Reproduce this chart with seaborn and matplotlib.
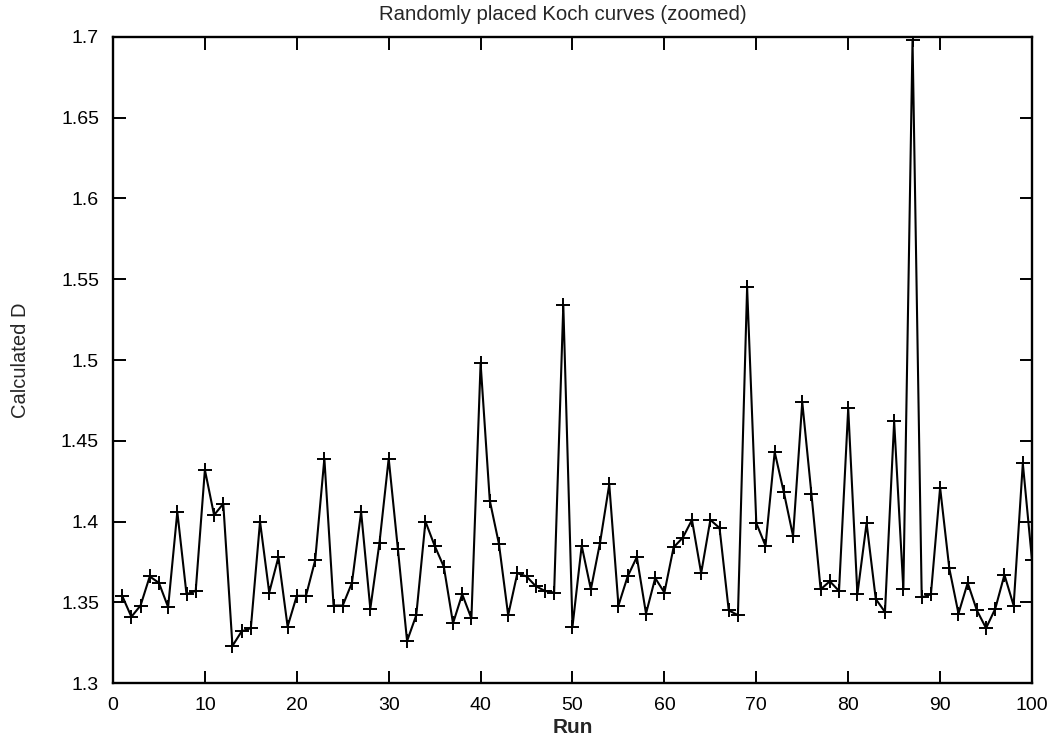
import matplotlib
matplotlib.use("Agg")
import matplotlib.pyplot as plt
import seaborn as sns
import pandas as pd
from matplotlib.ticker import FixedLocator

runs = list(range(1, 101))
calculated_d = [
    1.354, 1.341, 1.348, 1.366, 1.362, 1.347, 1.406, 1.355, 1.357, 1.432,
    1.404, 1.411, 1.323, 1.332, 1.334, 1.400, 1.356, 1.378, 1.335, 1.354,
    1.354, 1.376, 1.439, 1.348, 1.348, 1.362, 1.406, 1.346, 1.387, 1.439,
    1.383, 1.326, 1.342, 1.400, 1.385, 1.372, 1.337, 1.355, 1.340, 1.498,
    1.413, 1.386, 1.342, 1.368, 1.366, 1.360, 1.357, 1.356, 1.534, 1.335,
    1.385, 1.358, 1.387, 1.423, 1.348, 1.366, 1.378, 1.343, 1.365, 1.356,
    1.384, 1.390, 1.401, 1.368, 1.401, 1.396, 1.345, 1.342, 1.545, 1.399,
    1.385, 1.443, 1.418, 1.391, 1.474, 1.417, 1.358, 1.363, 1.357, 1.470,
    1.355, 1.399, 1.352, 1.344, 1.462, 1.358, 1.698, 1.353, 1.355, 1.421,
    1.371, 1.343, 1.362, 1.345, 1.334, 1.346, 1.367, 1.348, 1.436, 1.376,
]
x_ticks = [0, 10, 20, 30, 40, 50, 60, 70, 80, 90, 100]
y_ticks = [1.3, 1.35, 1.4, 1.45, 1.5, 1.55, 1.6, 1.65, 1.7]
y_tick_labels = ["1.3", "1.35", "1.4", "1.45", "1.5", "1.55", "1.6", "1.65", "1.7"]

sns.set_style("white")
plt.rcParams['font.family'] = ['Liberation Sans', 'DejaVu Sans']

df = pd.DataFrame({"Run": runs, "D": calculated_d})

fig = plt.figure(figsize=(10.52, 7.35), dpi=100)
ax = fig.add_axes([0.1074, 0.0707, 0.8736, 0.879])

sns.lineplot(data=df, x="Run", y="D", ax=ax, color="black", linewidth=1.5,
             marker="+", markersize=10, markeredgewidth=1.4, markeredgecolor="black")

ax.set_xlim(0, 100)
ax.set_ylim(1.3, 1.7)
ax.xaxis.set_major_locator(FixedLocator(x_ticks))
ax.yaxis.set_major_locator(FixedLocator(y_ticks))
ax.set_yticklabels(y_tick_labels)
ax.tick_params(axis="both", direction="in", length=9, width=1.4, colors="black",
               labelsize=14, top=True, right=True, bottom=True, left=True)
ax.tick_params(axis="x", pad=10)
ax.tick_params(axis="y", pad=10)
for s in ax.spines.values():
    s.set_color("black")
    s.set_linewidth(1.7)
    s.set_visible(True)

ax.set_title("Randomly placed Koch curves (zoomed)", fontsize=14.7, pad=12, x=0.489)
ax.set_xlabel("Run", fontsize=15, fontweight="bold", labelpad=3)
ax.set_ylabel("Calculated D", fontsize=14.5, labelpad=22)

fig.savefig("out.png", dpi=100, facecolor="white")
